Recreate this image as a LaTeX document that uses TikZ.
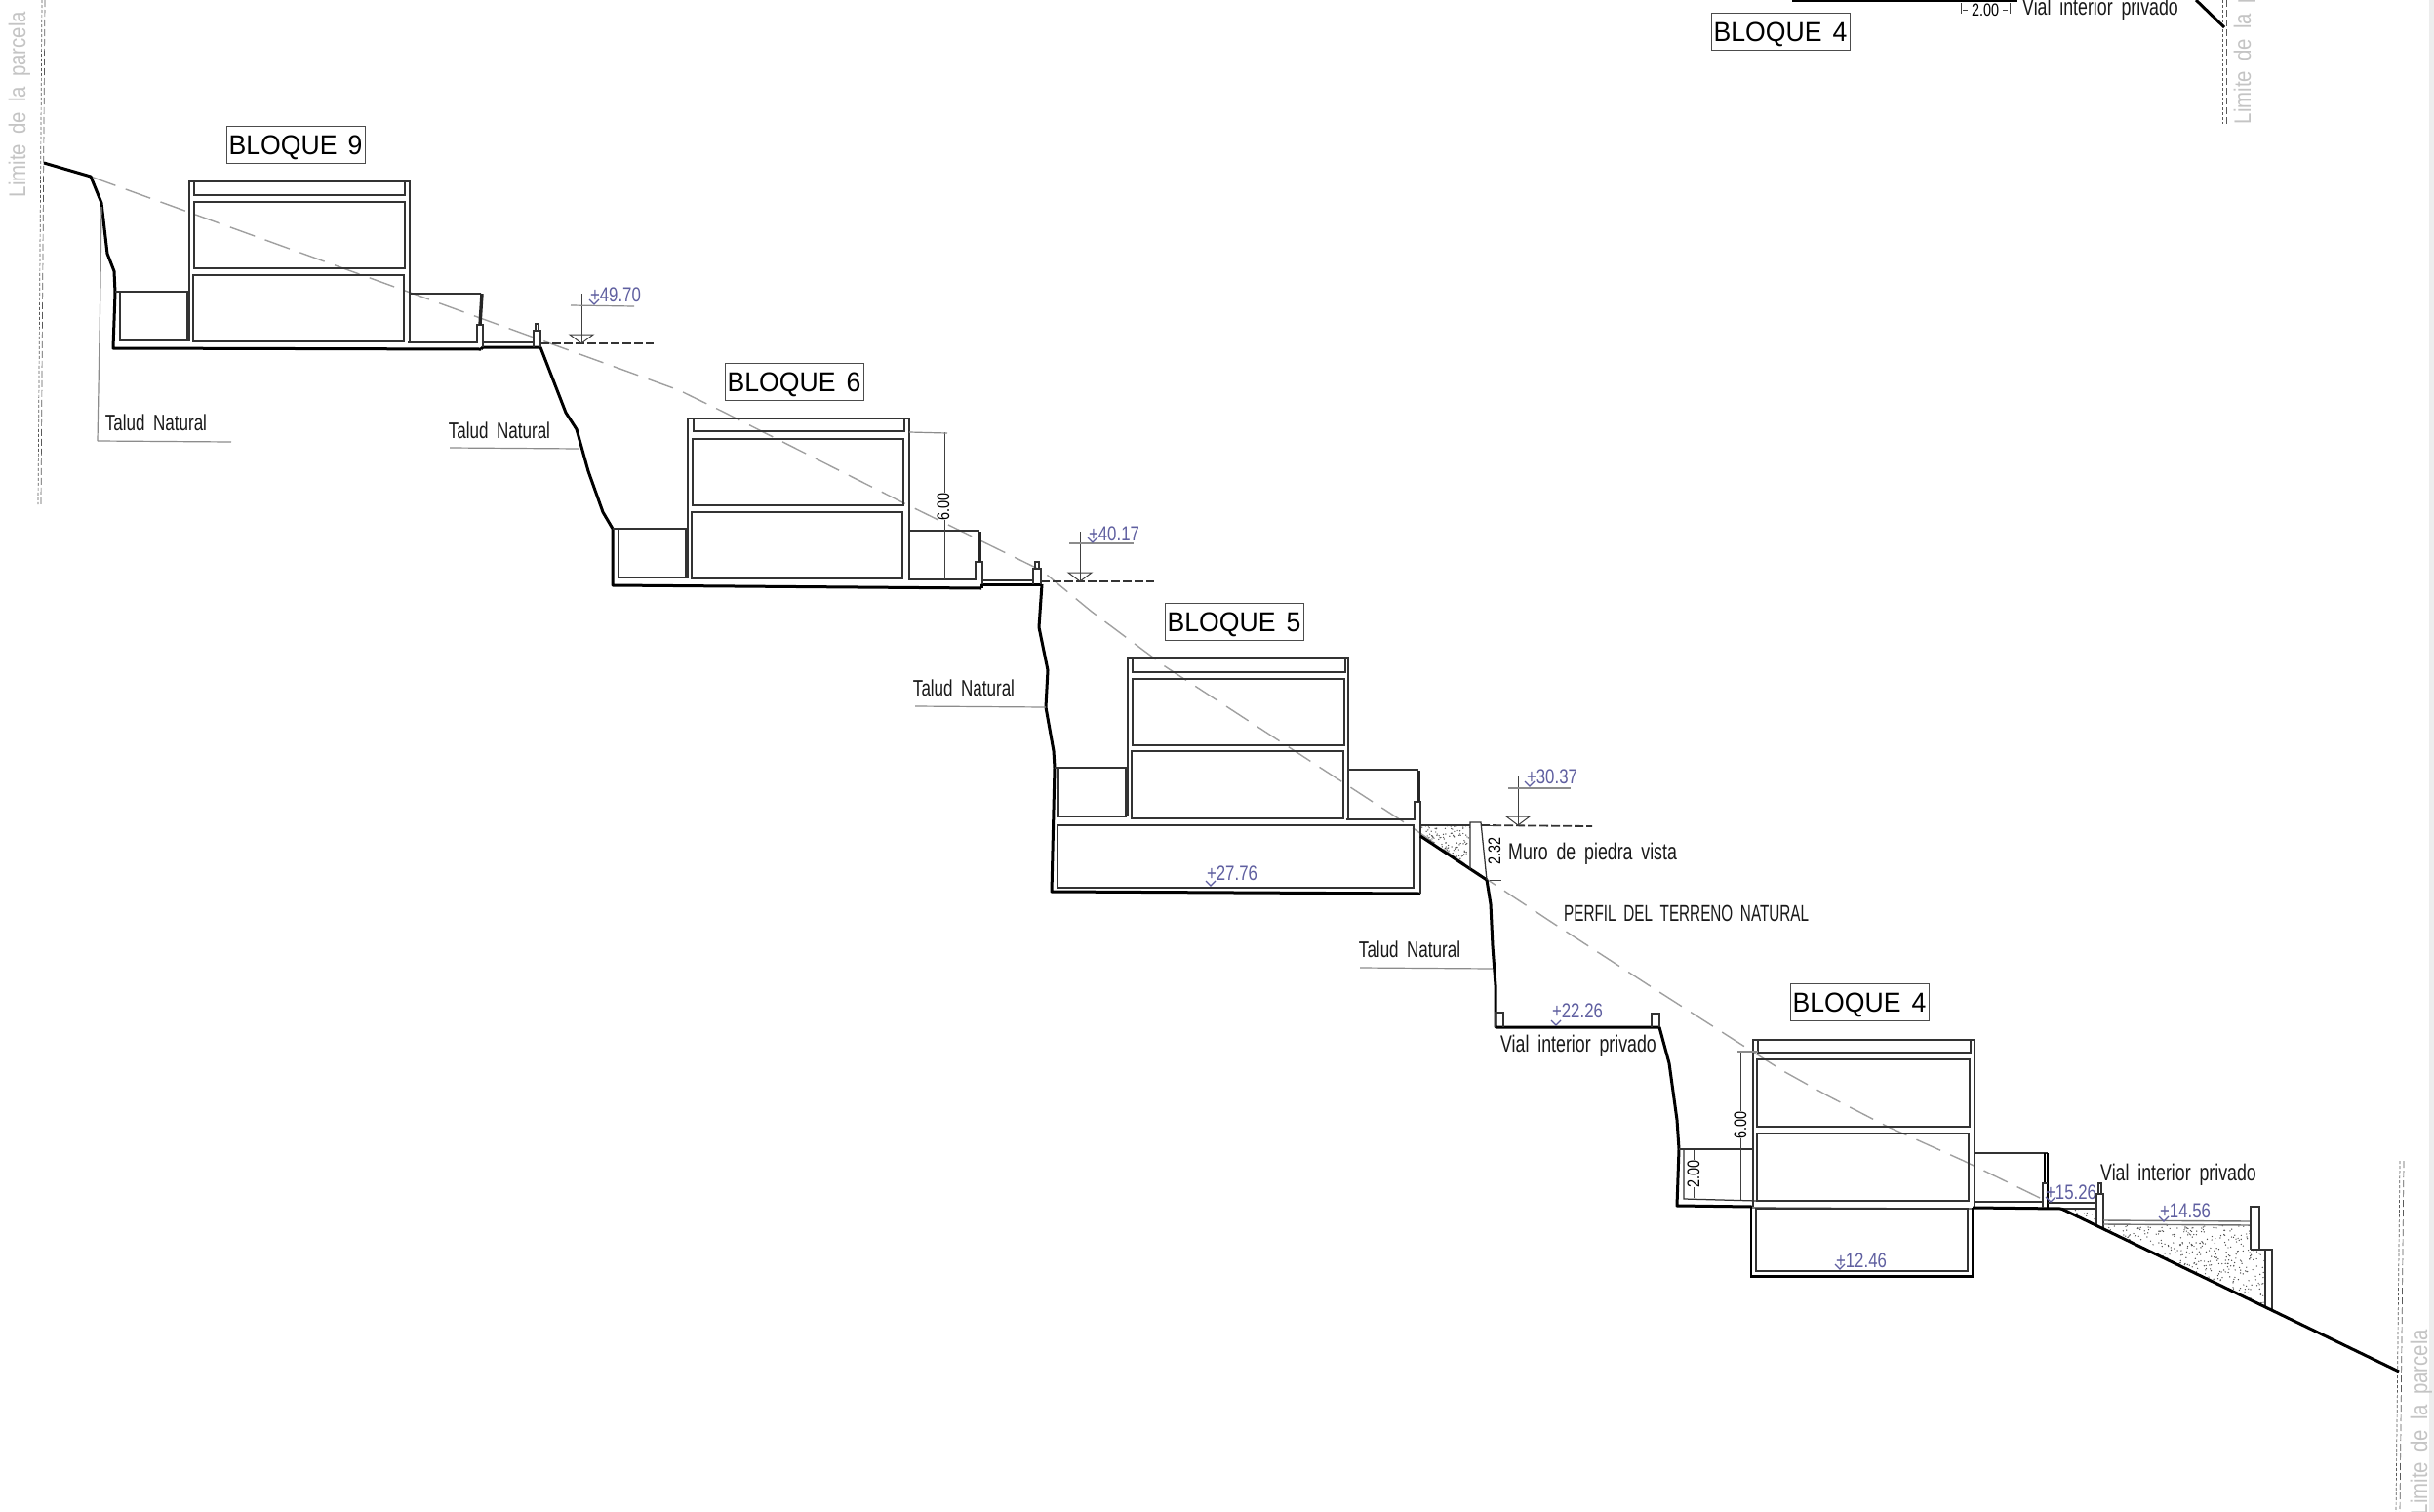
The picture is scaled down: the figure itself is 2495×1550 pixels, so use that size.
\documentclass[tikz,border=0pt]{standalone}
\usepackage{fontspec}
\setmainfont{Liberation Sans}
\newfontfamily\cad[FakeStretch=0.74,WordSpace=1.8]{Liberation Sans}
\newfontfamily\lvf[FakeStretch=0.8,WordSpace=1.8]{Liberation Sans}
\newfontfamily\cadn[FakeStretch=0.65,WordSpace=1.8]{Liberation Sans}
\newfontfamily\limf[FakeStretch=0.85,WordSpace=1.8]{Liberation Sans}
\newfontfamily\blq[FakeStretch=0.95,WordSpace=1.5]{Liberation Sans}
\definecolor{lvlblue}{HTML}{5F5FA0}
\definecolor{limtxt}{HTML}{C4C4C4}
\definecolor{terr}{HTML}{A0A0A0}
\tikzset{
  x=1pt,y=-1pt,
  wl/.style={draw=black!80,line width=1.25pt,line join=miter},
  thk/.style={draw=black,line width=3pt,line join=round},
  med/.style={draw=black,line width=2.2pt,line join=round},
  hair/.style={draw=black!75,line width=1pt},
  lead/.style={draw=black!45,line width=1.2pt},
  natline/.style={draw=terr,line width=1.4pt,dash pattern=on 27pt off 11pt},
  lvldash/.style={draw=black!80,line width=1.8pt,dash pattern=on 9pt off 3pt},
  limd/.style={draw=black!65,line width=0.7pt,dash pattern=on 7pt off 3pt},
  limdd/.style={draw=black!65,line width=0.7pt,dash pattern=on 3pt off 2pt},
  bloque/.style={draw=black!70,line width=1pt,minimum width=142pt,minimum height=38pt,inner sep=0pt,font=\blq\fontsize{28}{30}\selectfont},
  bltxt/.style={inner sep=0pt,font=\blq\fontsize{28}{30}\selectfont},
  tal/.style={inner sep=0pt,font=\cad\fontsize{23}{25}\selectfont,text=black!90},
  viallbl/.style={inner sep=0pt,font=\cad\fontsize{24}{26}\selectfont,text=black!90},
  perfil/.style={inner sep=0pt,font=\cadn\fontsize{23.5}{25}\selectfont,text=black!90},
  lvlt/.style={inner sep=0pt,font=\lvf\fontsize{21}{23}\selectfont,text=lvlblue},
  dimt/.style={inner sep=0pt,font=\lvf\fontsize{18}{20}\selectfont,text=black,fill=white},
  limt/.style={inner sep=0pt,rotate=90,font=\limf\fontsize{24}{26}\selectfont,text=limtxt},
  chev/.style={draw=lvlblue,line width=1.3pt}
}
\newcommand{\chevron}[2]{\draw[chev] (#1-5,#2-5) -- (#1,#2) -- (#1+5,#2-5);}
\newcommand{\lvltri}[3]{% x, ytop, ylevel
  \draw[hair] (#1,#2) -- (#1,#3);
  \draw[hair] (#1-12,#3-9) -- (#1+12,#3-9) -- (#1,#3) -- cycle;}
\newcommand{\blockname}[4]{% name, x, y, text
  \node[bloque] (#1) at (#2,#3) {};
  \node[bltxt] (#1t) at (#2,#3+3) {#4};}
\begin{document}
\begin{tikzpicture}
\useasboundingbox (0,0) rectangle (2495,1550);
\clip (0,0) rectangle (2495,1550);
\fill[white] (0,0) rectangle (2495,1550);
\fill[black!7] (2490,0) rectangle (2495,1550);

% plot limits
\draw[limd] (46,0) -- (42,517);
\draw[limdd] (43,0) -- (39,517);
\draw[limd] (2282,0) -- (2282,127);
\draw[limdd] (2278,0) -- (2278,127);
\draw[limd] (2464,1190) -- (2460,1550);
\draw[limdd] (2460,1190) -- (2456,1550);
\node[limt] (lim1) at (20,107) {Limite de la parcela};
\node[limt] (lim2) at (2301,32) {Limite de la parcela};
\node[limt] (lim3) at (2482,1458) {Limite de la parcela};

% natural terrain profile
\draw[natline] (93,181) -- (696,400) -- (741,422) -- (925,515) -- (1068,585) -- (1119,627) -- (1194,683)
  -- (1447,848) -- (1525,902) -- (1590,945) -- (1690,1010) -- (1787,1072) -- (1828,1098) -- (1873,1123)
  -- (1935,1155) -- (2013,1190) -- (2091,1228);

% ---------- BLOQUE 9
\blockname{b9}{303}{148}{BLOQUE 9}
\draw[thk] (45,167) -- (93,181) -- (104,208) -- (110,260) -- (117,278) -- (118,300) -- (116,357) -- (493,358);
\draw[thk] (493,358) -- (495,356) -- (554,356);
\draw[wl] (194,350) -- (194,186) -- (420,186) -- (420,351);
\draw[wl] (199,187) -- (199,200) -- (415,200) -- (415,187);
\draw[wl] (199,207) rectangle (415,275);
\draw[wl] (198,282) rectangle (414,350);
\draw[wl] (118,299) -- (194,299);
\draw[wl] (123,300) -- (123,349) -- (192,349) -- (192,300);
\draw[wl] (420,301) -- (493,301);
\draw[wl] (418,351) -- (489,351) -- (489,333) -- (495,333) -- (495,356);
\draw[line width=3.4pt,draw=black!85] (494,301) -- (492,333);
\draw[wl] (495,351) -- (547,351);
\draw[wl] (547,356) -- (547,339) -- (554,339) -- (554,356);
\draw[wl] (549,339) -- (549,332) -- (552,332) -- (552,339);
\draw[lvldash] (554,352) -- (670,352);
\lvltri{596}{301}{352}
\draw[lead] (585,313) -- (650,314);
\node[lvlt] (l4970) at (631,302) {+49.70};
\chevron{609}{312}
\draw[lead] (100,452) -- (103,290) -- (104,212);
\draw[lead] (100,452) -- (237,453);
\node[tal] (t1) at (160,433) {Talud Natural};

% ---------- BLOQUE 6
\blockname{b6}{814}{391}{BLOQUE 6}
\draw[thk] (554,356) -- (580,423) -- (591,440) -- (603,483) -- (618,525) -- (628,542) -- (628,600) -- (1006,603);
\draw[thk] (1006,603) -- (1006,599) -- (1068,599);
\draw[wl] (705,593) -- (705,429) -- (932,429) -- (932,594);
\draw[wl] (711,430) -- (711,442) -- (927,442) -- (927,430);
\draw[wl] (710,450) rectangle (926,518);
\draw[wl] (709,525) rectangle (925,593);
\draw[wl] (628,542) -- (704,542);
\draw[wl] (634,543) -- (634,592) -- (703,592) -- (703,543);
\draw[wl] (932,544) -- (1004,544);
\draw[wl] (931,594) -- (1000,594) -- (1000,576) -- (1007,576) -- (1007,599);
\draw[line width=3.4pt,draw=black!85] (1004,545) -- (1004,576);
\draw[wl] (1007,595) -- (1059,595);
\draw[wl] (1059,599) -- (1059,583) -- (1067,583) -- (1067,599);
\draw[wl] (1061,583) -- (1061,576) -- (1065,576) -- (1065,583);
\draw[lvldash] (1067,596) -- (1183,596);
\lvltri{1107}{545}{596}
\draw[lead] (1096,557) -- (1162,557);
\node[lvlt] (l4017) at (1142,547) {+40.17};
\chevron{1120}{556}
\draw[hair] (968,443) -- (968,594);
\draw[lead] (932,443) -- (971,444);
\node[dimt,rotate=90] (d6a) at (967,519) {6.00};
\draw[lead] (461,459) -- (594,460);
\node[tal] (t2) at (512,441) {Talud Natural};

% ---------- BLOQUE 5
\blockname{b5}{1265}{637}{BLOQUE 5}
\draw[thk] (1068,599) -- (1065,643) -- (1074,687) -- (1072,725) -- (1080,770) -- (1081,787) -- (1078,914) -- (1456,916);
\draw[wl] (1456,847) -- (1456,916);
\draw[wl] (1156,837) -- (1156,675) -- (1382,675) -- (1382,840);
\draw[wl] (1161,676) -- (1161,689) -- (1379,689) -- (1379,676);
\draw[wl] (1161,696) rectangle (1378,764);
\draw[wl] (1160,770) rectangle (1377,839);
\draw[wl] (1081,787) -- (1155,787);
\draw[wl] (1085,788) -- (1085,837) -- (1154,837) -- (1154,788);
\draw[wl] (1382,789) -- (1454,789);
\draw[wl] (1380,840) -- (1450,840) -- (1450,822) -- (1456,822) -- (1456,847);
\draw[line width=3.4pt,draw=black!85] (1454,790) -- (1454,822);
\draw[wl] (1084,846) rectangle (1449,910);
% fill and stone wall
\begin{scope}
  \clip (1456,846) -- (1507,846) -- (1507,891) -- (1456,857) -- cycle;
  \pgfmathsetseed{11}
  \foreach \i in {1,...,170} {\fill[black!70] (1456+51*rnd,846+46*rnd) circle (0.7pt);}
\end{scope}
\draw[wl] (1456,846) -- (1507,846);
\draw[thk] (1456,857) -- (1524,902);
\draw[wl] (1507,891) -- (1507,843) -- (1518,843) -- (1524,902);
\draw[lvldash] (1518,846) -- (1632,847);
\lvltri{1556}{795}{846}
\draw[lead] (1546,808) -- (1610,808);
\node[lvlt] (l3037) at (1591,796) {+30.37};
\chevron{1568}{806}
\draw[hair] (1533,846) -- (1533,902);
\draw[hair] (1527,846) -- (1539,846);
\draw[hair] (1527,902) -- (1539,902);
\node[dimt,rotate=90] (d232) at (1532,872) {2.32};
\node[viallbl,anchor=west] (muro) at (1546,875) {Muro de piedra vista};
\node[perfil,anchor=west] (perf) at (1603,936) {PERFIL DEL TERRENO NATURAL};
\node[lvlt] (l2776) at (1263,895) {+27.76};
\chevron{1241}{908}
\draw[lead] (938,724) -- (1072,725);
\node[tal] (t3) at (988,705) {Talud Natural};

% ---------- Vial intermedio
\draw[thk] (1524,902) -- (1528,927) -- (1530,970) -- (1533,1010) -- (1533,1053) -- (1700,1053);
\draw[wl] (1533,1053) -- (1533,1038) -- (1541,1038) -- (1541,1053);
\draw[wl] (1693,1053) -- (1693,1039) -- (1701,1039) -- (1701,1053);
\node[lvlt] (l2226) at (1617,1036) {+22.26};
\chevron{1595}{1051}
\node[viallbl] (v1) at (1618,1072) {Vial interior privado};
\draw[lead] (1394,992) -- (1530,993);
\node[tal] (t4) at (1445,973) {Talud Natural};

% ---------- BLOQUE 4
\blockname{b4}{1906}{1027}{BLOQUE 4}
\draw[thk] (1701,1053) -- (1711,1090) -- (1719,1148) -- (1721,1178) -- (1719,1236) -- (1796,1237);
\draw[wl] (1797,1237) -- (1797,1066) -- (2024,1066) -- (2024,1239);
\draw[wl] (1802,1067) -- (1802,1079) -- (2020,1079) -- (2020,1067);
\draw[wl] (1801,1086) rectangle (2019,1155);
\draw[wl] (1801,1162) rectangle (2018,1231);
\draw[wl] (1721,1178) -- (1797,1178);
\draw[wl] (1726,1179) -- (1726,1229) -- (1801,1231);
\draw[wl] (1796,1238) -- (2022,1239);
\draw[med] (1795,1237) -- (1795,1308);
\draw[med] (2022,1308) -- (2022,1238);
\draw[thk] (1794,1308) -- (2023,1308);
\draw[wl] (1800,1239) rectangle (2017,1303);
\draw[thk] (2022,1238) -- (2113,1239);
\draw[wl] (2024,1182) -- (2099,1182);
\draw[med,line width=1.6pt] (2096,1182) -- (2096,1213);
\draw[med,line width=1.6pt] (2099,1182) -- (2099,1238);
\draw[wl] (2023,1232) -- (2094,1232) -- (2094,1213) -- (2099,1213);
\draw[wl] (2094,1232) -- (2094,1238);
\draw[wl] (2099,1233) -- (2149,1233);
% fills
\begin{scope}
  \clip (2113,1239) -- (2149,1239) -- (2149,1257) -- cycle;
  \pgfmathsetseed{23}
  \foreach \i in {1,...,25} {\fill[black!70] (2113+36*rnd,1239+18*rnd) circle (0.7pt);}
\end{scope}
\begin{scope}
  \clip (2156,1256) -- (2307,1256) -- (2307,1281) -- (2322,1281) -- (2322,1340) -- (2156,1260) -- cycle;
  \pgfmathsetseed{37}
  \foreach \i in {1,...,650} {\fill[black!70] (2156+166*rnd,1256+84*rnd) circle (0.7pt);}
\end{scope}
\draw[wl] (2113,1239) -- (2149,1239);
\draw[wl] (2149,1257) -- (2149,1224) -- (2156,1224) -- (2156,1260);
\draw[wl] (2151,1224) -- (2151,1213) -- (2154,1213) -- (2154,1224);
\draw[draw=black!55,line width=1.4pt] (2156,1251) -- (2307,1252);
\draw[draw=black!55,line width=1.4pt] (2156,1255) -- (2307,1256);
\draw[wl] (2307,1281) -- (2307,1237) -- (2316,1237) -- (2316,1281) -- (2329,1281) -- (2329,1343);
\draw[wl] (2307,1281) -- (2322,1281) -- (2322,1340);
\draw[thk] (2113,1239) -- (2459,1406);
\draw[hair] (1784,1078) -- (1784,1230);
\draw[lead] (1781,1078) -- (1802,1078);
\node[dimt,rotate=90] (d6b) at (1784,1153) {6.00};
\draw[hair] (1736,1179) -- (1736,1228);
\node[dimt,rotate=90] (d2) at (1736,1203) {2.00};
\node[lvlt] (l1246) at (1908,1292) {+12.46};
\chevron{1886}{1301}
\node[lvlt] (l1526) at (2123,1222) {+15.26};
\chevron{2102}{1232}
\node[lvlt] (l1456) at (2240,1241) {+14.56};
\chevron{2218}{1252}
\node[viallbl] (v2) at (2233,1204) {Vial interior privado};

% ---------- top fragment (next section)
\blockname{b4x}{1825}{32}{BLOQUE 4}
\draw[thk] (1837,0) -- (2068,0);
\draw[thk] (2251,0) -- (2280,28);
\node[dimt] (d2t) at (2035,10) {2.00};
\draw[hair] (2010,3) -- (2010,14);
\draw[hair] (2060,3) -- (2060,14);
\draw[hair] (2012,10) -- (2017,10);
\draw[hair] (2053,10) -- (2058,10);
\node[viallbl,anchor=west] (v3) at (2073,9) {Vial interior privado};
\end{tikzpicture}
\end{document}
